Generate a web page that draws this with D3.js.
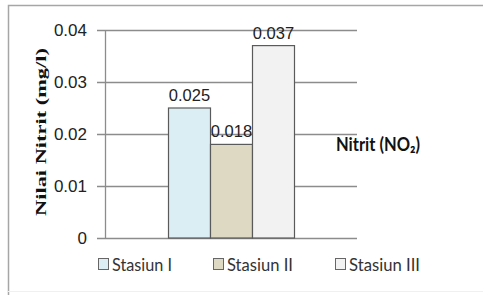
<!DOCTYPE html>
<html><head><meta charset="utf-8">
<script src="https://cdn.jsdelivr.net/npm/d3@7"></script>
<style>body{margin:0;background:#fff}svg{display:block}</style>
</head><body>
<svg id="c" width="483" height="295"></svg>
<script>
const seriesNames = ["Stasiun I", "Stasiun II", "Stasiun III"];
const seriesValues = [0.025, 0.018, 0.037];
const valueLabels = ["0.025", "0.018", "0.037"];
const seriesColors = ["#daeef3", "#ddd9c3", "#f2f2f2"];
const yTicks = [0, 0.01, 0.02, 0.03, 0.04];
const yTickLabels = ["0", "0.01", "0.02", "0.03", "0.04"];
const category = ["Nitrit (NO₂)"];

const svg = d3.select("#c");
// outer frame
svg.append("path").attr("d","M8.5,295 V5.5 H483").attr("fill","none").attr("stroke","#a6a6a6").attr("stroke-width",1.5);
svg.append("line").attr("x1",8).attr("x2",483).attr("y1",291.5).attr("y2",291.5).attr("stroke","#f0f0f0");

const plot = {l:105, r:357, t:30, b:238};
const y = d3.scaleLinear().domain([0,0.04]).range([plot.b, plot.t]);
const x0 = d3.scaleBand().domain(category).range([plot.l, plot.r]).paddingInner(0).paddingOuter(0.25);
const groupW = 126;
const gx = x0(category[0]) + (x0.bandwidth() - groupW)/2;
const xs = d3.scaleBand().domain(seriesNames).range([gx, gx + groupW]).padding(0);

// gridlines with left tick marks
svg.append("g").selectAll("line").data(yTicks).join("line")
  .attr("x1", plot.l - 8).attr("x2", plot.r)
  .attr("y1", d=>Math.round(y(d))+0.5).attr("y2", d=>Math.round(y(d))+0.5)
  .attr("stroke","#8c8c8c").attr("stroke-width",1.3);
const axisG = svg.append("g").attr("transform",`translate(${plot.l},0)`)
  .call(d3.axisLeft(y).tickValues(yTicks).tickFormat((d,i)=>yTickLabels[i]).tickSize(0).tickPadding(18));
axisG.select(".domain").attr("stroke","#8c8c8c").attr("stroke-width",1.3);
axisG.selectAll("text").attr("font-family","Liberation Sans, Arial, sans-serif").attr("font-size",17).attr("fill","#222");

// bars
svg.append("g").selectAll("rect").data(seriesValues).join("rect")
  .attr("x",(d,i)=>xs(seriesNames[i])+0.5)
  .attr("y",d=>y(d))
  .attr("width", xs.bandwidth())
  .attr("height",d=>plot.b - y(d))
  .attr("fill",(d,i)=>seriesColors[i])
  .attr("stroke","#5a5a5a").attr("stroke-width",1.2);

// value labels
svg.append("g").selectAll("text").data(seriesValues).join("text")
  .attr("x",(d,i)=>xs(seriesNames[i]) + xs.bandwidth()/2 + 0.5)
  .attr("y",d=>y(d) - 7)
  .attr("text-anchor","middle")
  .attr("font-family","Liberation Sans, Arial, sans-serif").attr("font-size",16.5).attr("fill","#222")
  .text((d,i)=>valueLabels[i]);

// y-axis title
svg.append("text")
  .attr("transform","translate(46,132) rotate(-90)")
  .attr("text-anchor","middle")
  .attr("font-family","Liberation Serif, Times New Roman, serif").attr("font-weight","bold")
  .attr("font-size",15).attr("fill","#111")
  .attr("textLength",168).attr("lengthAdjust","spacingAndGlyphs")
  .text("Nilai Nitrit (mg/l)");

// category label
svg.append("text").attr("x",336).attr("y",151)
  .attr("font-family","Lato, Open Sans, sans-serif").attr("font-weight","bold")
  .attr("font-size",18).attr("fill","#111")
  .attr("textLength",84).attr("lengthAdjust","spacingAndGlyphs")
  .text(category[0]);

// legend
const legX = [98, 213, 335];
const legW = [60, 66, 71];
const leg = svg.append("g").selectAll("g").data(seriesNames).join("g")
  .attr("transform",(d,i)=>`translate(${legX[i]},258)`);
leg.append("rect").attr("x",0.5).attr("y",0.5).attr("width",10).attr("height",11)
  .attr("fill",(d,i)=>seriesColors[i]).attr("stroke","#666").attr("stroke-width",1);
leg.append("text").attr("x",14).attr("y",12.5)
  .attr("font-family","Lato, Open Sans, sans-serif").attr("font-size",17.5).attr("fill","#333")
  .attr("textLength",(d,i)=>legW[i]).attr("lengthAdjust","spacingAndGlyphs")
  .text(d=>d);
</script>
</body></html>
